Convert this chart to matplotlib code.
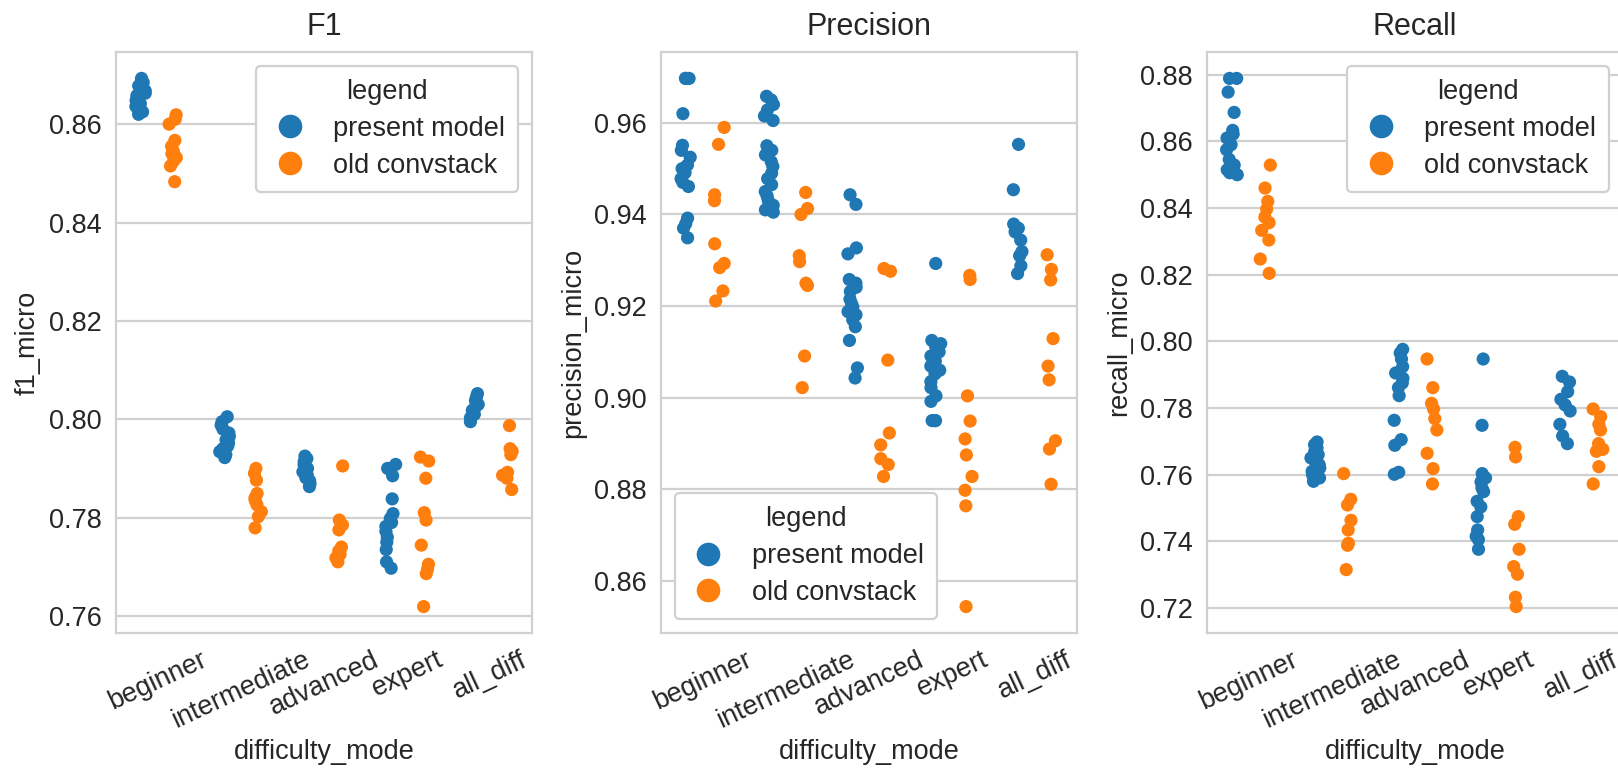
import numpy as np
import pandas as pd
import matplotlib
matplotlib.use('Agg')
import matplotlib.pyplot as plt
from matplotlib.lines import Line2D
import seaborn as sns

##### data (one list per difficulty)
difficulties = ['beginner', 'intermediate', 'advanced', 'expert', 'all_diff']
models = ['present model', 'old convstack']

f1_present = [
    [0.8693, 0.8685, 0.8678, 0.8672, 0.8668, 0.8663, 0.8658, 0.8652, 0.8648, 0.8642, 0.8636, 0.8630, 0.8625, 0.8620],
    [0.8005, 0.7995, 0.7988, 0.7980, 0.7972, 0.7965, 0.7958, 0.7952, 0.7946, 0.7940, 0.7934, 0.7928, 0.7922],
    [0.7925, 0.7920, 0.7914, 0.7907, 0.7900, 0.7893, 0.7887, 0.7881, 0.7875, 0.7869, 0.7863],
    [0.7908, 0.7900, 0.7885, 0.7838, 0.7808, 0.7798, 0.7790, 0.7782, 0.7772, 0.7760, 0.7750, 0.7735, 0.7710, 0.7697],
    [0.8052, 0.8045, 0.8038, 0.8030, 0.8024, 0.8018, 0.8010, 0.8003, 0.7995],
]
f1_old = [
    [0.8619, 0.8610, 0.8600, 0.8567, 0.8555, 0.8545, 0.8540, 0.8532, 0.8525, 0.8515, 0.8483],
    [0.7900, 0.7890, 0.7876, 0.7849, 0.7840, 0.7835, 0.7826, 0.7812, 0.7802, 0.7779],
    [0.7905, 0.7795, 0.7785, 0.7775, 0.7740, 0.7732, 0.7725, 0.7718, 0.7710],
    [0.7923, 0.7915, 0.7880, 0.7810, 0.7795, 0.7744, 0.7705, 0.7695, 0.7686, 0.7619],
    [0.7987, 0.7940, 0.7935, 0.7928, 0.7892, 0.7886, 0.7880, 0.7857],
]

prec_present = [
    [0.9697, 0.9697, 0.9697, 0.9620, 0.9551, 0.9540, 0.9525, 0.9508, 0.9500, 0.9491, 0.9478, 0.9470, 0.9461, 0.9392, 0.9380, 0.9370, 0.9349],
    [0.9658, 0.9650, 0.9640, 0.9628, 0.9615, 0.9605, 0.9550, 0.9540, 0.9530, 0.9515, 0.9505, 0.9490, 0.9478, 0.9465, 0.9450, 0.9440, 0.9430, 0.9420, 0.9410, 0.9405],
    [0.9443, 0.9422, 0.9327, 0.9314, 0.9258, 0.9250, 0.9241, 0.9232, 0.9215, 0.9205, 0.9198, 0.9188, 0.9181, 0.9170, 0.9155, 0.9125, 0.9065, 0.9043],
    [0.9293, 0.9125, 0.9118, 0.9112, 0.9100, 0.9091, 0.9080, 0.9069, 0.9060, 0.9052, 0.9035, 0.9022, 0.9004, 0.8992, 0.8950, 0.8950, 0.8950],
    [0.9553, 0.9454, 0.9379, 0.9370, 0.9362, 0.9344, 0.9319, 0.9310, 0.9288, 0.9271],
]
prec_old = [
    [0.9590, 0.9553, 0.9443, 0.9430, 0.9336, 0.9293, 0.9284, 0.9233, 0.9211],
    [0.9448, 0.9413, 0.9400, 0.9310, 0.9297, 0.9250, 0.9245, 0.9091, 0.9022],
    [0.9282, 0.9276, 0.9082, 0.8923, 0.8897, 0.8867, 0.8854, 0.8828],
    [0.9267, 0.9258, 0.9004, 0.8949, 0.8910, 0.8875, 0.8828, 0.8798, 0.8764, 0.8544],
    [0.9312, 0.9280, 0.9257, 0.9129, 0.9069, 0.9039, 0.8906, 0.8888, 0.8811],
]

rec_present = [
    [0.8789, 0.8789, 0.8748, 0.8687, 0.8633, 0.8622, 0.8610, 0.8590, 0.8575, 0.8546, 0.8529, 0.8515, 0.8506, 0.8500],
    [0.7698, 0.7690, 0.7680, 0.7670, 0.7660, 0.7650, 0.7640, 0.7630, 0.7620, 0.7610, 0.7600, 0.7590, 0.7580],
    [0.7976, 0.7965, 0.7947, 0.7924, 0.7905, 0.7889, 0.7875, 0.7861, 0.7837, 0.7763, 0.7705, 0.7688, 0.7607, 0.7601],
    [0.7947, 0.7748, 0.7603, 0.7590, 0.7578, 0.7560, 0.7549, 0.7520, 0.7503, 0.7474, 0.7434, 0.7415, 0.7405, 0.7376],
    [0.7895, 0.7878, 0.7849, 0.7826, 0.7809, 0.7791, 0.7751, 0.7716, 0.7693],
]
rec_old = [
    [0.8529, 0.8460, 0.8420, 0.8397, 0.8373, 0.8356, 0.8333, 0.8304, 0.8247, 0.8204],
    [0.7603, 0.7526, 0.7509, 0.7463, 0.7434, 0.7394, 0.7388, 0.7315],
    [0.7947, 0.7861, 0.7814, 0.7797, 0.7768, 0.7734, 0.7664, 0.7618, 0.7572],
    [0.7682, 0.7653, 0.7474, 0.7451, 0.7376, 0.7324, 0.7301, 0.7232, 0.7204],
    [0.7797, 0.7774, 0.7751, 0.7734, 0.7693, 0.7676, 0.7670, 0.7624, 0.7572],
]


def to_frame(present, old, col):
    rows = []
    for model, groups in zip(models, [present, old]):
        for diff, vals in zip(difficulties, groups):
            for v in vals:
                rows.append({'difficulty_mode': diff, 'legend': model, col: v})
    return pd.DataFrame(rows)


##### style
sns.set_theme(style='whitegrid')
plt.rcParams['font.family'] = ['Liberation Sans', 'DejaVu Sans']
plt.rcParams['text.color'] = '.15'
plt.rcParams['axes.labelcolor'] = '.15'
plt.rcParams['xtick.color'] = '.15'
plt.rcParams['ytick.color'] = '.15'

np.random.seed(3)  # only for the strip jitter
palette = ['#1f77b4', '#ff7f0e']

fig = plt.figure(figsize=(16.18, 7.68), dpi=100)
lefts = [116 / 1618, 661 / 1618, 1207 / 1618]
panels = [
    ('F1', 'f1_micro', f1_present, f1_old, 'upper right'),
    ('Precision', 'precision_micro', prec_present, prec_old, 'lower left'),
    ('Recall', 'recall_micro', rec_present, rec_old, 'upper right'),
]

for left, (title, col, present, old, loc) in zip(lefts, panels):
    ax = fig.add_axes([left, 135 / 768, 416 / 1618, 581 / 768])
    df = to_frame(present, old, col)
    sns.stripplot(data=df, x='difficulty_mode', y=col, hue='legend',
                  order=difficulties, hue_order=models, palette=palette,
                  dodge=True, jitter=0.13, size=9.5, linewidth=0, ax=ax)
    ax.set_title(title, fontsize=22, pad=12)
    ax.set_xlabel('difficulty_mode', fontsize=19.5, labelpad=4)
    ax.set_ylabel(col, fontsize=19.5, labelpad=6)
    ax.tick_params(axis='y', labelsize=19.5, pad=10, length=0)
    ax.tick_params(axis='x', labelsize=19.5, pad=10, length=0, rotation=25)
    ax.grid(axis='x', visible=False)
    ax.grid(axis='y', color='#d0d0d0', linewidth=1.6)
    for s in ax.spines.values():
        s.set_color('#d0d0d0')
        s.set_linewidth(1.6)
    handles = [Line2D([], [], linestyle='', marker='o', markersize=17,
                      markerfacecolor=c, markeredgewidth=0) for c in palette]
    leg = ax.legend(handles, models, title='legend', loc=loc, fontsize=19.5,
                    title_fontsize=19.5, handlelength=1.5, handletextpad=0.85,
                    labelspacing=0.4, borderpad=0.5, framealpha=1)
    leg.get_frame().set_edgecolor('#d0d0d0')
    leg.get_frame().set_linewidth(1.6)

fig.savefig('out.png', dpi=100)
